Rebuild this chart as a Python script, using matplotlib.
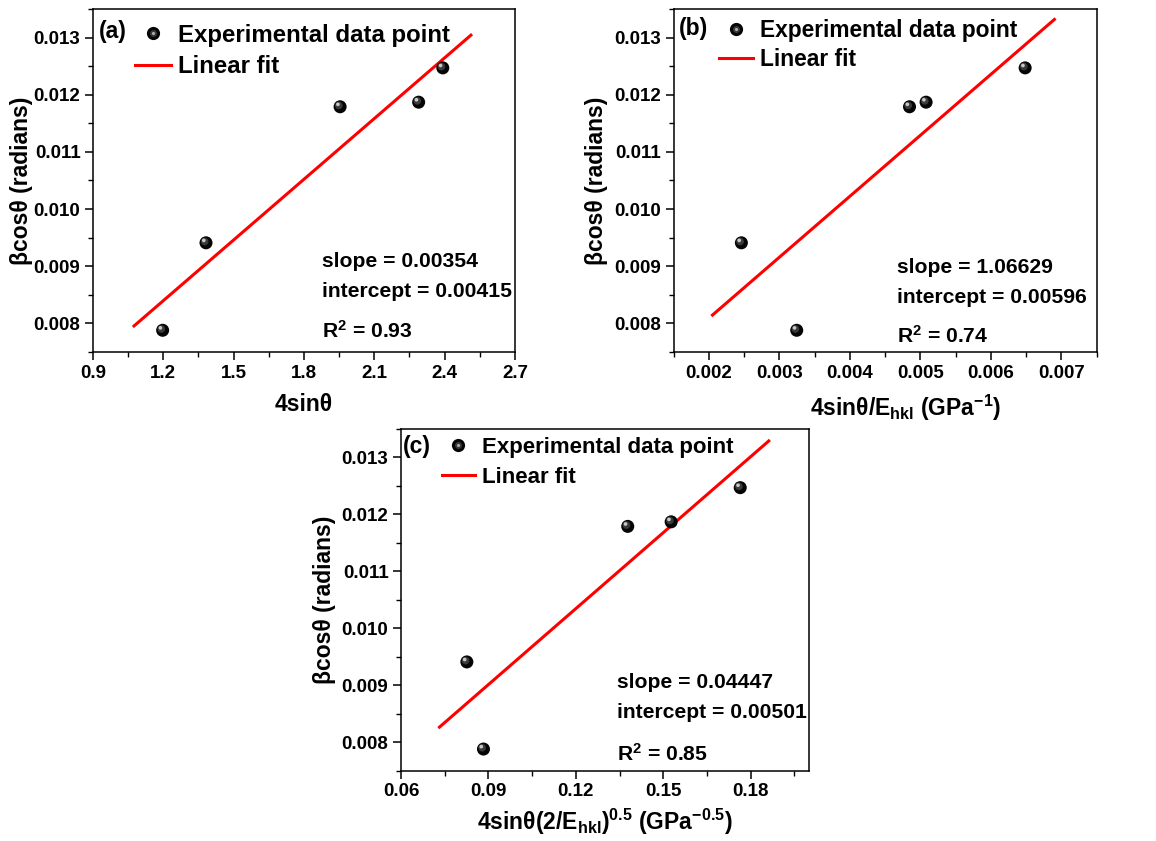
import matplotlib
matplotlib.use("Agg")
import matplotlib.pyplot as plt
import numpy as np
from matplotlib.legend_handler import HandlerTuple
from matplotlib.lines import Line2D
from matplotlib.ticker import MultipleLocator, FormatStrFormatter
from matplotlib.transforms import offset_copy

plt.rcParams["font.family"] = ["Liberation Sans", "DejaVu Sans"]
plt.rcParams["font.weight"] = "bold"
plt.rcParams["axes.labelweight"] = "bold"
plt.rcParams["mathtext.fontset"] = "custom"
plt.rcParams["mathtext.rm"] = "Liberation Sans:bold"
plt.rcParams["mathtext.it"] = "Liberation Sans:bold"
plt.rcParams["mathtext.bf"] = "Liberation Sans:bold"
plt.rcParams["mathtext.default"] = "rm"

# beta*cos(theta) for the five reflections
beta_cos = [0.00788, 0.00941, 0.01179, 0.01187, 0.01247]

# abscissae for the three models (UDM, USDM, UDEDM)
x_udm = [1.197, 1.382, 1.954, 2.289, 2.392]
x_usdm = [0.003245, 0.00246, 0.004845, 0.00508, 0.006485]
x_udedm = [0.0883, 0.0826, 0.1378, 0.1527, 0.1764]

# linear fit results
slopes = [0.00354, 1.06629, 0.04447]
intercepts = [0.00415, 0.00596, 0.00501]
r2_values = [0.93, 0.74, 0.85]
fit_ranges = [(1.075, 2.512), (0.00205, 0.0069), (0.0732, 0.1862)]

tags = ["(a)", "(b)", "(c)"]
xlabels = [
    "4sinθ",
    "4sinθ/E$_{hkl}$ (GPa$^{-1}$)",
    "4sinθ(2/E$_{hkl}$)$^{0.5}$ (GPa$^{-0.5}$)",
]
ylabel = "βcosθ (radians)"

W, H = 1156, 841
fig = plt.figure(figsize=(W / 100, H / 100), dpi=100)


def px_axes(left, top, right, bottom):
    return fig.add_axes([left / W, 1 - bottom / H, (right - left) / W, (bottom - top) / H])


def balls(ax, x, y):
    # black spheres with a soft grey highlight towards the upper left
    ax.scatter(x, y, s=88, color="#050505", edgecolors="none", zorder=3)
    mid = offset_copy(ax.transData, fig=fig, x=-1.3, y=1.3, units="dots")
    ax.scatter(x, y, s=30, color="#3a3a3a", edgecolors="none", zorder=4, transform=mid)
    top = offset_copy(ax.transData, fig=fig, x=-2.2, y=2.4, units="dots")
    ax.scatter(x, y, s=7, color="#c8c8c8", edgecolors="none", zorder=5, transform=top)


axes = [
    px_axes(93, 9, 515, 352),
    px_axes(673.7, 9, 1096.7, 352),
    px_axes(401, 429, 809, 770.7),
]
xdata = [x_udm, x_usdm, x_udedm]
xlims = [(0.9, 2.7), (0.0015, 0.0075), (0.06, 0.20)]
xsteps = [0.3, 0.001, 0.03]
xfmts = ["%.1f", "%.3f", "%.2f"]
leg_font = [17.3, 16.4, 16]
leg_space = [0.36, 0.25, 0.41]
leg_anchor = [(0.10, 0.957), (0.107, 0.97), (0.10, 0.978)]
tag_pos = [(0.013, 0.934), (0.012, 0.942), (0.005, 0.95)]
note_pos = [(0.542, 0.249, 0.161, 0.040), (0.529, 0.231, 0.142, 0.027), (0.530, 0.241, 0.153, 0.029)]
xlabel_xy = [(0.5, -0.12), (0.548, -0.119), (0.5, -0.106)]
ylabel_pad = [0.6, 4.9, 4.4]

for i, ax in enumerate(axes):
    balls(ax, xdata[i], beta_cos)
    xf = np.array(fit_ranges[i])
    ax.plot(xf, intercepts[i] + slopes[i] * xf, color="red", lw=2.2, zorder=2)

    ax.set_xlim(*xlims[i])
    ax.set_ylim(0.0075, 0.0135)
    ax.xaxis.set_major_locator(MultipleLocator(xsteps[i]))
    ax.xaxis.set_minor_locator(MultipleLocator(xsteps[i] / 2))
    ax.xaxis.set_major_formatter(FormatStrFormatter(xfmts[i]))
    ax.yaxis.set_major_locator(MultipleLocator(0.001))
    ax.yaxis.set_minor_locator(MultipleLocator(0.0005))
    ax.yaxis.set_major_formatter(FormatStrFormatter("%.3f"))
    ax.tick_params(which="major", direction="out", length=6, width=1.1, labelsize=13.5, pad=3)
    ax.tick_params(which="minor", direction="out", length=3.5, width=1.0)
    for sp in ax.spines.values():
        sp.set_linewidth(1.1)

    ax.set_xlabel(xlabels[i], fontsize=16.5)
    ax.xaxis.set_label_coords(*xlabel_xy[i])
    ax.xaxis.label.set_va("top")
    ax.set_ylabel(ylabel, fontsize=16.5, labelpad=ylabel_pad[i])

    # legend entries built from proxy artists
    h_pt = (Line2D([], [], ls="none", marker="o", ms=9.5, color="#050505", mec="none"),
            Line2D([], [], ls="none", marker="o", ms=5, color="#3a3a3a", mec="none"),
            Line2D([], [], ls="none", marker="o", ms=2.2, color="#b0b0b0", mec="none"))
    h_ln = Line2D([], [], color="red", lw=2.2)
    ax.legend([h_pt, h_ln], ["Experimental data point", "Linear fit"],
              handler_map={tuple: HandlerTuple(ndivide=1, pad=0)},
              loc="upper left", bbox_to_anchor=leg_anchor[i], frameon=False,
              fontsize=leg_font[i], handlelength=1.5, handletextpad=0.3,
              labelspacing=leg_space[i], borderpad=0, borderaxespad=0)
    ax.text(tag_pos[i][0], tag_pos[i][1], tags[i], transform=ax.transAxes,
            fontsize=16.5, va="center", ha="left")

    nx, y1, y2, y3 = note_pos[i]
    ax.text(nx, y1, f"slope = {slopes[i]:.5f}", transform=ax.transAxes, fontsize=15.2, va="baseline")
    ax.text(nx, y2, f"intercept = {intercepts[i]:.5f}", transform=ax.transAxes, fontsize=15.2, va="baseline")
    ax.text(nx, y3, f"R$^{{2}}$ = {r2_values[i]:.2f}", transform=ax.transAxes, fontsize=15.2, va="baseline")

fig.savefig("out.png", dpi=100)
